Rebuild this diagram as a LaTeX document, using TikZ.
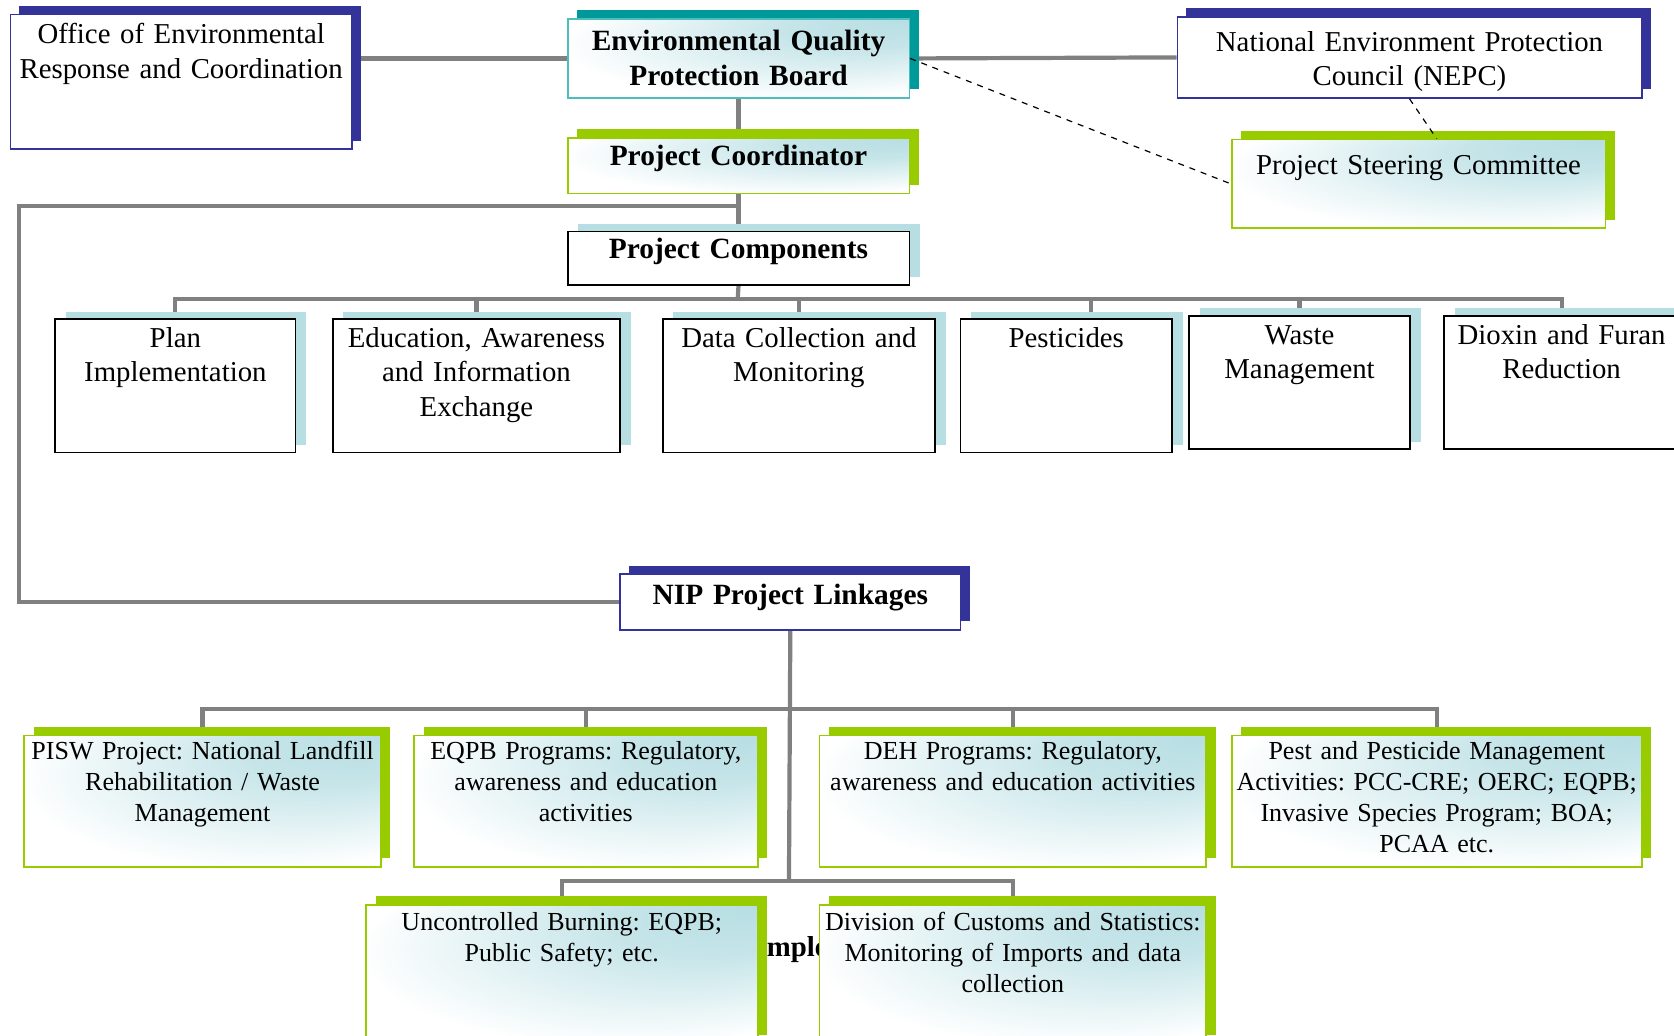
\documentclass[tikz,border=0pt]{standalone}
\usepackage{fontspec}
\setmainfont{Liberation Serif}
\usetikzlibrary{positioning, shadows, backgrounds}
\definecolor{navy}{RGB}{51,51,153}
\definecolor{tealshade}{RGB}{0,153,153}
\definecolor{tealline}{RGB}{77,189,189}
\definecolor{limegreen}{RGB}{153,204,0}
\definecolor{paleblue}{RGB}{183,222,227}
\definecolor{linegray}{RGB}{128,128,128}
\pgfdeclareradialshading{cornerglow}{\pgfpoint{25bp}{25bp}}{%
  color(0bp)=(paleblue); color(12bp)=(paleblue!80!white);
  color(34bp)=(white); color(50bp)=(white)}
\newcommand{\mainsize}{\fontsize{14.4pt}{17.2pt}\selectfont}
\newcommand{\linksize}{\fontsize{13pt}{15.5pt}\selectfont}
\frenchspacing

\begin{document}
\begin{tikzpicture}[
    x=0.5338pt, y=-0.5338pt,
    box/.style={draw, line width=0.8pt, anchor=north west, inner xsep=1.5pt,
                inner ysep=2pt, align=center, font=\mainsize},
    strong/.style={font=\fontsize{14.7pt}{17.2pt}\selectfont\bfseries},
    grad/.style={shade, shading=cornerglow},
    navybox/.style={box, draw=navy, fill=white,
                    drop shadow={shadow xshift=4.5pt, shadow yshift=4.3pt,
                                 fill=navy, opacity=1}},
    tealbox/.style={box, grad, draw=tealline,
                    drop shadow={shadow xshift=4.8pt, shadow yshift=4.3pt,
                                 fill=tealshade, opacity=1}},
    limebox/.style={box, grad, draw=limegreen,
                    drop shadow={shadow xshift=4.8pt, shadow yshift=4.3pt,
                                 fill=limegreen, opacity=1}},
    compbox/.style={box, fill=white,
                    drop shadow={shadow xshift=5.3pt, shadow yshift=3.7pt,
                                 fill=paleblue, opacity=1}},
    rowbox/.style={compbox, text height=12.2pt, text depth=50.5pt},
    linkbox/.style={limebox, font=\linksize, inner xsep=0.5pt,
                    text height=10pt, text depth=51.7pt},
    conn/.style={draw=linegray, line width=2.1pt},
    dashlink/.style={dashed, line width=0.6pt}
  ]
  \useasboundingbox (0,0) rectangle (1568,970);
  % Board and councils
  \node[navybox, text width=167.8pt, text height=12.5pt, text depth=50.8pt] (oerc) at (9,13)
    {Office of Environmental\\Response and Coordination};
  \node[tealbox, strong, text width=167.8pt, text height=14pt, text depth=21.5pt] (eqpb) at (531,17)
    {Environmental Quality\\Protection Board};
  \node[navybox, text width=229.2pt, text height=15.1pt, text depth=21.5pt] (nepc) at (1102,15)
    {National Environment Protection\\Council (NEPC)};
  \node[limebox, strong, text width=167.8pt, text height=11.9pt, text depth=11.9pt,
        below=19.2pt of eqpb] (pc) {Project Coordinator};
  \node[limebox, text width=183.8pt, text height=15.6pt, text depth=24.7pt] (psc) at (1153,130)
    {Project Steering Committee};
  \node[compbox, strong, text width=167.8pt, text height=11.4pt, text depth=11.3pt,
        below=18.1pt of pc] (comp) {Project Components};
  % Components
  \node[rowbox, text width=117.1pt] (plan) at (51,298) {Plan\\Implementation};
  \node[rowbox, text width=140.6pt] (edu) at (311,298) {Education, Awareness\\and Information\\Exchange};
  \node[rowbox, text width=133.1pt] (data) at (620,298) {Data Collection and\\Monitoring};
  \node[rowbox, text width=102.7pt] (pest) at (899,298) {Pesticides};
  \node[rowbox, text width=107.5pt] (waste) at (1113,295) {Waste\\Management};
  \node[rowbox, text width=114.4pt] (dioxin) at (1352,295) {Dioxin and Furan\\Reduction};
  % Linkages
  \node[navybox, strong, text width=167.3pt, text height=13pt, text depth=10.8pt] (nip) at (580,537)
    {NIP Project Linkages};
  \node[anchor=base west, inner sep=0pt, font=\mainsize\bfseries] (hidden) at (718,896) {mple};
  \node[linkbox, text width=177.3pt] (pisw) at (22,688)
    {PISW Project: National Landfill\\Rehabilitation / Waste\\Management};
  \node[linkbox, text width=170.9pt] (eqpbp) at (387,688)
    {EQPB Programs: Regulatory,\\awareness and education\\activities};
  \node[linkbox, text width=192.2pt] (deh) at (767,688)
    {DEH Programs: Regulatory,\\awareness and education activities};
  \node[linkbox, text width=204pt] (pestm) at (1153,688)
    {Pest and Pesticide Management\\Activities: PCC-CRE; OERC; EQPB;\\Invasive Species Program; BOA;\\PCAA etc.};
  \node[linkbox, text width=194.9pt, text height=10.5pt, text depth=54.9pt] (unc) at (342,847)
    {Uncontrolled Burning: EQPB;\\Public Safety; etc.};
  \node[linkbox, text width=192.2pt, text height=10.5pt, text depth=54.9pt] (div) at (767,847)
    {Division of Customs and Statistics:\\Monitoring of Imports and data\\collection};
  % Bus points
  \coordinate (pcfork) at (691,193);
  \coordinate (leftrail) at (18,193);
  \coordinate (rowbus) at (691,280);
  \coordinate (linkbus) at (739,664);
  \coordinate (lowbus) at (739,825);
  % Connectors
  \begin{scope}[on background layer]
    \draw[conn] (oerc.east |- eqpb.west) -- (eqpb.west);
    \draw[conn] (eqpb.east) -- (nepc.west);
    \draw[conn] (eqpb.south) -- (pc.north);
    \draw[conn] (pc.south) -- (comp.north);
    \draw[conn] (pcfork) -- (leftrail) |- (nip.west);
    \draw[conn] (comp.south) -- (rowbus);
    \draw[conn] (rowbus) -| (plan.north);
    \draw[conn] (rowbus) -| (edu.north);
    \draw[conn] (rowbus) -| (data.north);
    \draw[conn] (rowbus) -| ([xshift=12.3pt]pest.north);
    \draw[conn] (rowbus) -| (waste.north);
    \draw[conn] (rowbus) -| (dioxin.north);
    \draw[conn] (nip.south) -- (lowbus);
    \draw[conn] (linkbus) -| (pisw.north);
    \draw[conn] (linkbus) -| (eqpbp.north);
    \draw[conn] (linkbus) -| (deh.north);
    \draw[conn] (linkbus) -| (pestm.north);
    \draw[conn] (lowbus) -| (unc.north);
    \draw[conn] (lowbus) -| (div.north);
  \end{scope}
  \draw[dashlink] (eqpb.east) -- (psc.west);
  \draw[dashlink] (nepc.south) -- ([xshift=9.1pt]psc.north);
\end{tikzpicture}
\end{document}
